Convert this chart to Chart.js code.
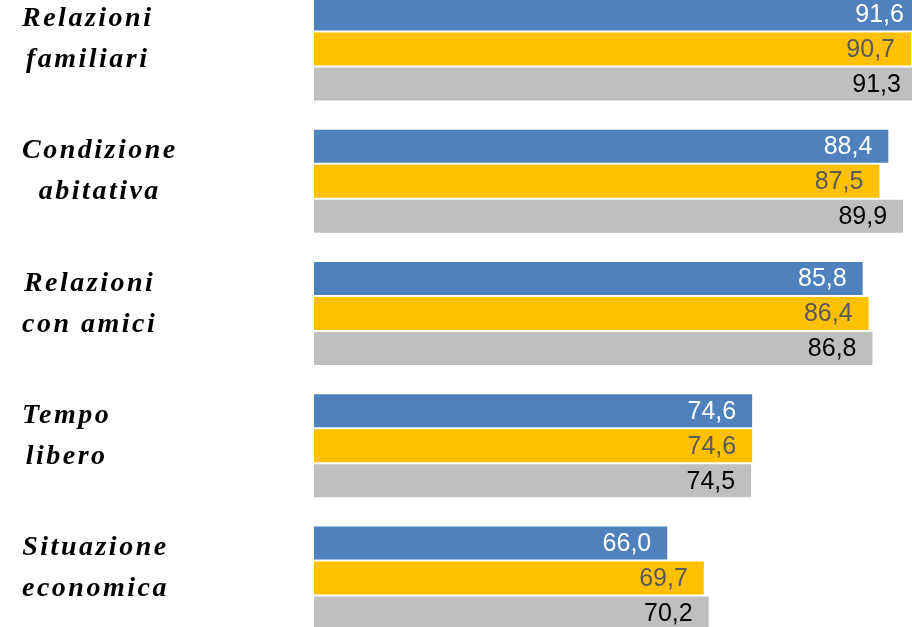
<!DOCTYPE html>
<html lang="it">
<head>
<meta charset="UTF-8">
<title>Soddisfazione</title>
<script src="https://cdn.jsdelivr.net/npm/chart.js"></script>
<style>
    html, body{
        margin:0;
        padding:0;
        background:#ffffff;
        overflow:hidden;
    }
    #wrap{
        position:relative;
        width:912px;
        height:627px;
        overflow:hidden;
    }
    #grafico{
        position:absolute;
        left:0;
        top:-17px;
    }
</style>
</head>
<body>
<div id="wrap">
    <canvas id="grafico" width="912" height="661"></canvas>
</div>
<script>
// categorie (due righe ciascuna)
const categorie = [
    ["Relazioni", "familiari"],
    ["Condizione", "abitativa"],
    ["Relazioni", "con amici"],
    ["Tempo", "libero"],
    ["Situazione", "economica"]
];
const serie1 = [91.6, 88.4, 85.8, 74.6, 66.0];
const serie2 = [90.7, 87.5, 86.4, 74.6, 69.7];
const serie3 = [91.3, 89.9, 86.8, 74.5, 70.2];

const colori = ["#4f81bd", "#ffc000", "#bfbfbf"];
const coloriTesto = ["#ffffff", "#595959", "#000000"];

function formatta(v){
    return v.toFixed(1).replace(".", ",");
}

// etichette dei valori dentro la barra, allineate a destra
const etichetteValori = {
    id: "etichetteValori",
    afterDatasetsDraw(chart){
        const ctx = chart.ctx;
        ctx.save();
        ctx.font = "25px 'Liberation Sans', Arial, sans-serif";
        ctx.textAlign = "right";
        ctx.textBaseline = "middle";
        chart.data.datasets.forEach((ds, i) => {
            const meta = chart.getDatasetMeta(i);
            meta.data.forEach((bar, j) => {
                ctx.fillStyle = coloriTesto[i];
                ctx.fillText(formatta(ds.data[j]), bar.x - 16, bar.y + 1);
            });
        });
        ctx.restore();
    }
};

// etichette delle categorie a sinistra, centrate nel loro blocco
const etichetteCategorie = {
    id: "etichetteCategorie",
    afterDraw(chart){
        const ctx = chart.ctx;
        const y = chart.scales.y;
        ctx.save();
        ctx.font = "italic bold 28px 'Liberation Serif', 'DejaVu Serif', serif";
        ctx.letterSpacing = "2.5px";
        ctx.fillStyle = "#000000";
        ctx.textAlign = "center";
        ctx.textBaseline = "alphabetic";
        categorie.forEach((righe, i) => {
            const cy = y.getPixelForValue(i);
            const larg = Math.max(...righe.map(r => ctx.measureText(r).width));
            const cx = 22 + larg / 2;
            ctx.fillText(righe[0], cx, cy - 23);
            ctx.fillText(righe[1], cx, cy + 18);
        });
        ctx.restore();
    }
};

new Chart(document.getElementById("grafico").getContext("2d"), {
    type: "bar",
    data: {
        labels: categorie.map(c => c.join(" ")),
        datasets: [
            { label: "Serie 1", data: serie1, backgroundColor: colori[0] },
            { label: "Serie 2", data: serie2, backgroundColor: colori[1] },
            { label: "Serie 3", data: serie3, backgroundColor: colori[2] }
        ]
    },
    options: {
        indexAxis: "y",
        responsive: false,
        animation: false,
        events: [],
        categoryPercentage: 0.794,
        barPercentage: 0.943,
        layout: { padding: { left: 314, right: 0, top: 0, bottom: 0 } },
        plugins: {
            legend: { display: false },
            tooltip: { enabled: false }
        },
        scales: {
            x: {
                display: false,
                min: 30.2,
                max: 90.8
            },
            y: {
                display: false,
                grid: { display: false }
            }
        }
    },
    plugins: [etichetteValori, etichetteCategorie]
});
</script>
</body>
</html>
